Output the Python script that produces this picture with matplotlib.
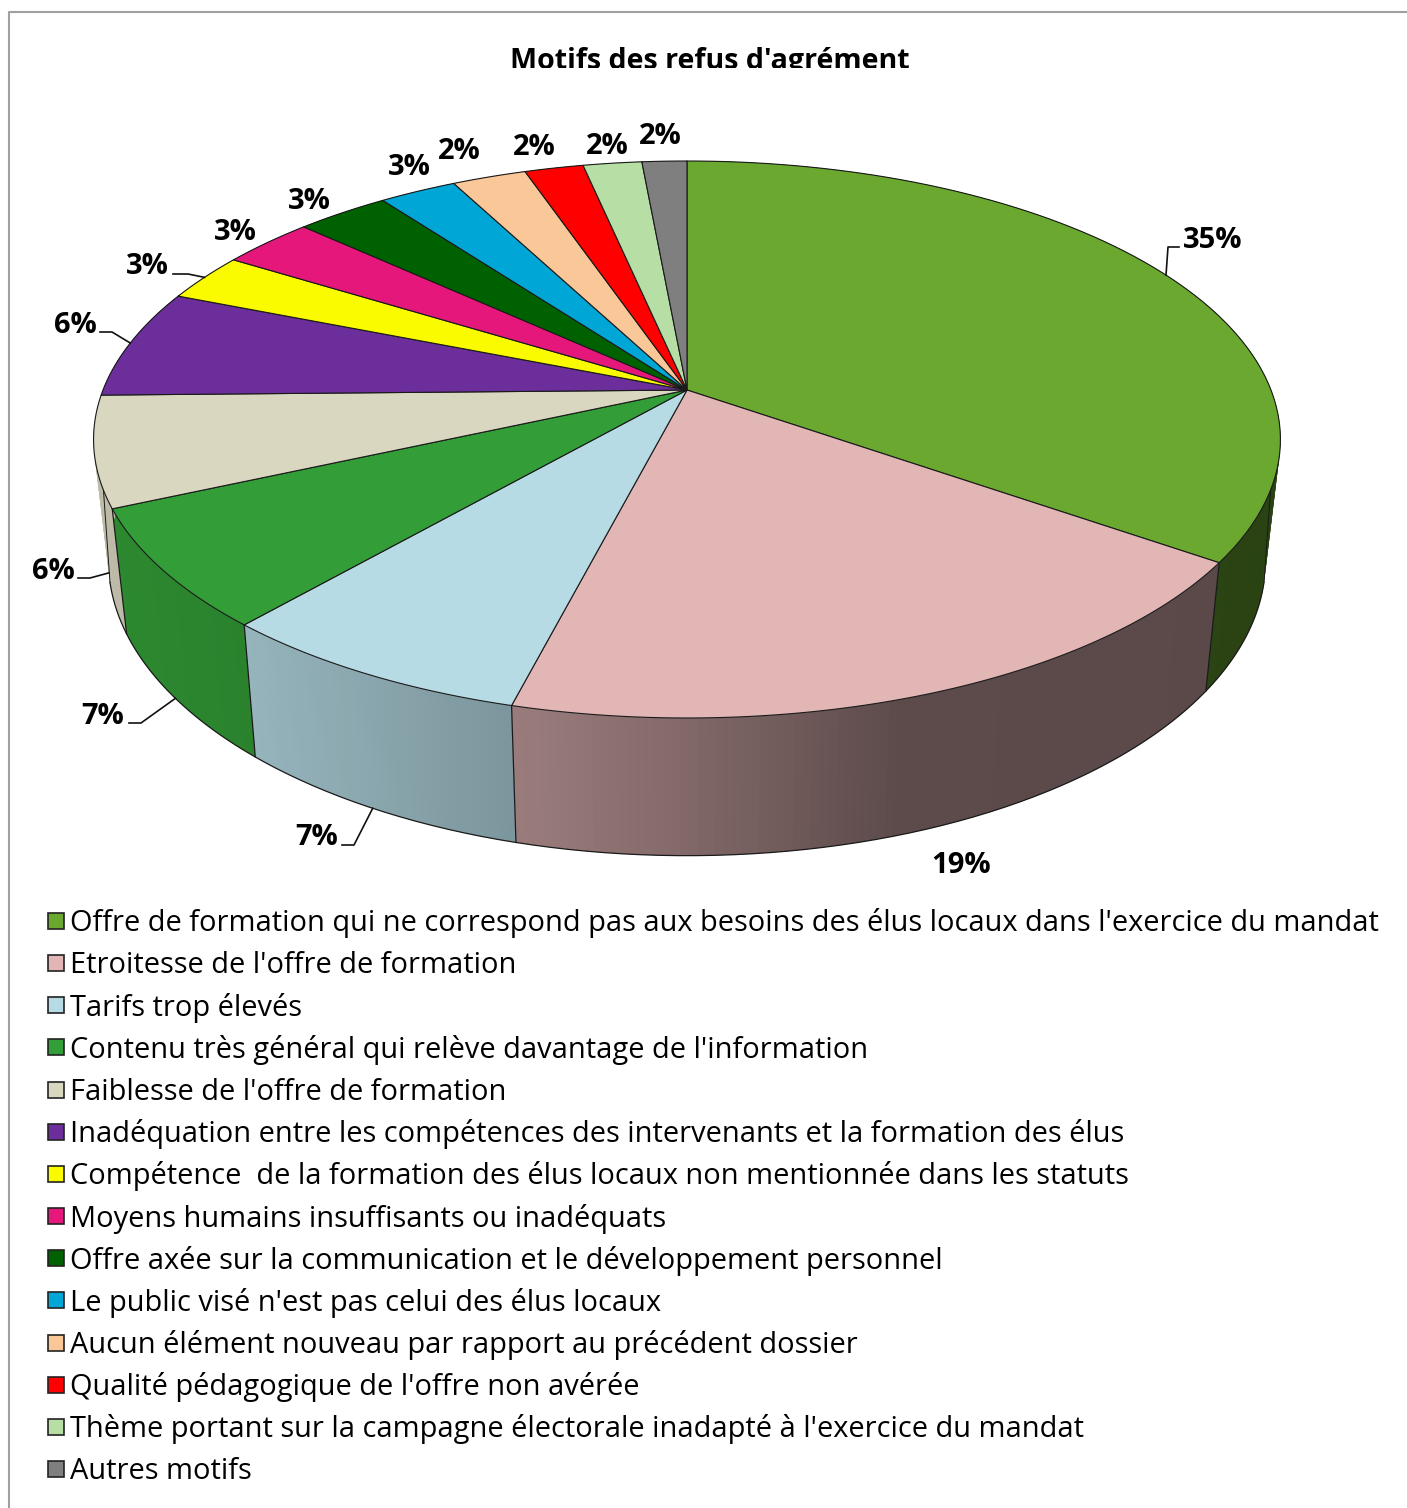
import numpy as np
import matplotlib
matplotlib.use('Agg')
import matplotlib.pyplot as plt
from matplotlib.patches import Rectangle

plt.rcParams['font.family'] = ['Open Sans', 'DejaVu Sans']

title = "Motifs des refus d'agrément"
categories = [
    "Offre de formation qui ne correspond pas aux besoins des élus locaux dans l'exercice du mandat",
    "Etroitesse de l'offre de formation",
    "Tarifs trop élevés",
    "Contenu très général qui relève davantage de l'information",
    "Faiblesse de l'offre de formation",
    "Inadéquation entre les compétences des intervenants et la formation des élus",
    "Compétence  de la formation des élus locaux non mentionnée dans les statuts",
    "Moyens humains insuffisants ou inadéquats",
    "Offre axée sur la communication et le développement personnel",
    "Le public visé n'est pas celui des élus locaux",
    "Aucun élément nouveau par rapport au précédent dossier",
    "Qualité pédagogique de l'offre non avérée",
    "Thème portant sur la campagne électorale inadapté à l'exercice du mandat",
    "Autres motifs",
]
shares = [34.75, 19.25, 7.4, 6.9, 6.4, 6.35, 2.8, 3.0, 3.0, 2.5, 2.4, 1.9, 1.9, 1.45]
labels = ['35%', '19%', '7%', '7%', '6%', '6%', '3%', '3%', '3%', '3%', '2%', '2%', '2%', '2%']
colors = ['#6AA82F', '#E3B6B6', '#B6DBE5', '#339E37', '#DAD7C1', '#6B2E9B', '#FBFB00',
          '#E5177A', '#006100', '#00A7D6', '#FAC898', '#FF0000', '#B7DFA5', '#7F7F7F']

# layout, in image pixels
label_xy = [(1213, 237), (961, 862), (317, 834), (103, 713), (53, 568), (75, 322), (147, 263),
            (235, 229), (309, 198), (409, 164), (459, 148), (534, 144), (607, 143), (660, 133)]
# horizontal stub of each leader line: x start, x elbow, y
stubs = [(1179, 1168, 247), None, (342, 354, 845), (129, 141, 723), (78, 90, 578), (100, 112, 332),
         (173, 188, 274), None, None, None, None, None, None, None]

# perspective of the disc: apex of the pie and the strength of the foreshortening
APEX_X, APEX_Y = 687, 390
A, B, K = 584, 269.7, 0.1777
BOTTOM_Y, BOTTOM_SX, BOTTOM_SY = 508, 0.975, 1.06


def top_rim(pct, r=1.0):
    t = np.radians(np.asarray(pct) * 3.6)
    u, v = r * np.sin(t), r * np.cos(t)
    w = 1 + K * v
    return APEX_X + A * u / w, APEX_Y - B * v / w


def bottom_rim(pct):
    x, y = top_rim(pct)
    return APEX_X + BOTTOM_SX * (x - APEX_X), BOTTOM_Y + BOTTOM_SY * (y - APEX_Y)


def shade(color, x):
    f = np.interp(x, [100, 250, 514, 650, 900, 1300], [.87, .82, .68, .6, .41, .4])
    return tuple(np.array(matplotlib.colors.to_rgb(color)) * f)


fig = plt.figure(figsize=(14.07, 15.08), dpi=100)
ax = fig.add_axes([0, 0, 1, 1])
ax.set_xlim(0, 1407)
ax.set_ylim(1508, 0)
ax.axis('off')

# chart frame, open on the right and at the bottom
ax.plot([8.5, 8.5, 1407], [1508, 12, 12], color='#a0a0a0', lw=1.5, zorder=1)

ends = np.cumsum(shares) / np.sum(shares) * 100
starts = np.concatenate(([0], ends[:-1]))
mids = (starts + ends) / 2

# side wall, in thin slices so the shading can follow x
for s, e, c in zip(starts, ends, colors):
    p = np.arange(s, e + 0.2, 0.2)
    p[-1] = e
    xt, yt = top_rim(p)
    xb, yb = bottom_rim(p)
    for i in range(len(p) - 1):
        col = shade(c, (xt[i] + xt[i + 1]) / 2)
        j = min(i + 2, len(p) - 1)  # overlap the next slice, no seams
        ax.fill([xt[i], xt[j], xb[j], xb[i]], [yt[i], yt[j], yb[j], yb[i]],
                facecolor=col, edgecolor='none', zorder=2)

# lower rim, only where it is the outline, and the two silhouette edges
p = np.linspace(29, 71, 300)
ax.plot(*bottom_rim(p), color='#1a1a1a', lw=0.9, zorder=3)
for pt, pb in [(26, 29), (74, 71)]:
    xt, yt = top_rim(pt)
    xb, yb = bottom_rim(pb)
    ax.plot([xt, xb], [yt, yb], color='#1a1a1a', lw=0.7, zorder=3)

# wall seams on the visible front part
for e in ends:
    if 25 < e < 72:
        xt, yt = top_rim(e)
        xb, yb = bottom_rim(e)
        ax.plot([xt, xb], [yt, yb], color='#1a1a1a', lw=0.9, zorder=3)

# top face
for s, e, c in zip(starts, ends, colors):
    p = np.linspace(s, e, 80)
    xt, yt = top_rim(p)
    ax.fill(np.r_[APEX_X, xt], np.r_[APEX_Y, yt], facecolor=c, edgecolor='#1a1a1a', lw=0.8,
            joinstyle='round', zorder=4)

# data labels and leader lines
for m, lab, xy, st in zip(mids, labels, label_xy, stubs):
    ax.text(xy[0], xy[1], lab, ha='center', va='center_baseline', fontsize=21, fontweight='bold',
            color='black', zorder=6)
    if st is not None:
        x0, y0 = bottom_rim(m) if 25 < m < 75 else top_rim(m)
        ax.plot([st[0], st[1], x0], [st[2], st[2], y0], color='#111111', lw=1.2, zorder=5)

# title, cut at the bottom in the source
ax.text(710, 69, title, ha='center', va='baseline', fontsize=20.6, fontweight='bold', zorder=6)
ax.add_patch(Rectangle((300, 68), 800, 16, facecolor='white', edgecolor='none', zorder=7))

# legend
for i, (cat, c) in enumerate(zip(categories, colors)):
    y = 921 + i * 42.15
    ax.add_patch(Rectangle((48, y - 8), 16, 16, facecolor=c, edgecolor='#222222', lw=1.2, zorder=6))
    ax.text(70, y - 1, cat, ha='left', va='center_baseline', fontsize=20.9, color='black', zorder=6)

fig.savefig('out.png', dpi=100)
